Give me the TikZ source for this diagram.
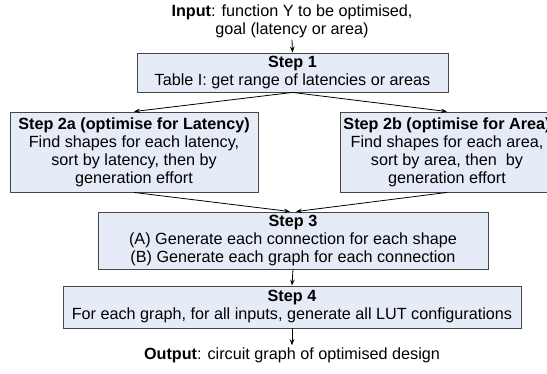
\documentclass[tikz,border=0pt]{standalone}
\usepackage{fontspec}
\setmainfont{Liberation Sans}
\usetikzlibrary{arrows.meta}
\definecolor{boxfill}{RGB}{230,236,247}
\definecolor{boxline}{RGB}{70,70,70}
\tikzset{
  txt/.style={align=center, inner sep=0pt, font=\fontsize{16.2}{18}\selectfont},
  stepbox/.style={txt, draw=boxline, fill=boxfill, line width=0.9pt},
  flow/.style={draw=black, line width=0.8pt, -{Stealth[length=6pt,width=4.5pt]}}
}
\begin{document}
\begin{tikzpicture}[x=1pt,y=-1pt]
\clip (0,0) rectangle (547,374);
\fill[white] (0,0) rectangle (547,374);

% input and output texts
\node[txt] (in) at (292,21) {\textbf{Input}: function Y to be optimised,\\goal (latency or area)};
\node[txt] (out) at (292,355) {\textbf{Output}: circuit graph of optimised design};

% process steps
\node[stepbox, minimum width=311pt, minimum height=39pt] (s1) at (292.5,72.5)
  {\textbf{Step 1}\\Table I: get range of latencies or areas};
\node[stepbox, minimum width=248pt, minimum height=80pt] (s2a) at (134,152)
  {\textbf{Step 2a (optimise for Latency)}\\Find shapes for each latency,\\sort by latency, then by\\generation effort};
\node[stepbox, minimum width=214pt, minimum height=80pt] (s2b) at (447,152)
  {\textbf{Step 2b (optimise for Area)}\\Find shapes for each area,\\sort by area, then\ \ by\\generation effort};
\node[stepbox, minimum width=390pt, minimum height=57pt] (s3) at (293,240.5)
  {\textbf{Step 3}\\(A) Generate each connection for each shape\\(B) Generate each graph for each connection};
\node[stepbox, minimum width=458pt, minimum height=42pt] (s4) at (292,307)
  {\textbf{Step 4}\\For each graph, for all inputs, generate all LUT configurations};

% connectors
\draw[flow] ([yshift=-2pt]in.south) -- (s1.north);
\draw[flow] (s1.south) -- (s2a.north);
\draw[flow] (s1.south) -- (s2b.north);
\draw[flow] (s2a.south) -- ([xshift=-3pt]s3.north);
\draw[flow] (s2b.south) -- ([xshift=3pt]s3.north);
\draw[flow] (s3.south) -- (s4.north);
\draw[flow] (s4.south) -- ([yshift=2pt]out.north);
\end{tikzpicture}
\end{document}
